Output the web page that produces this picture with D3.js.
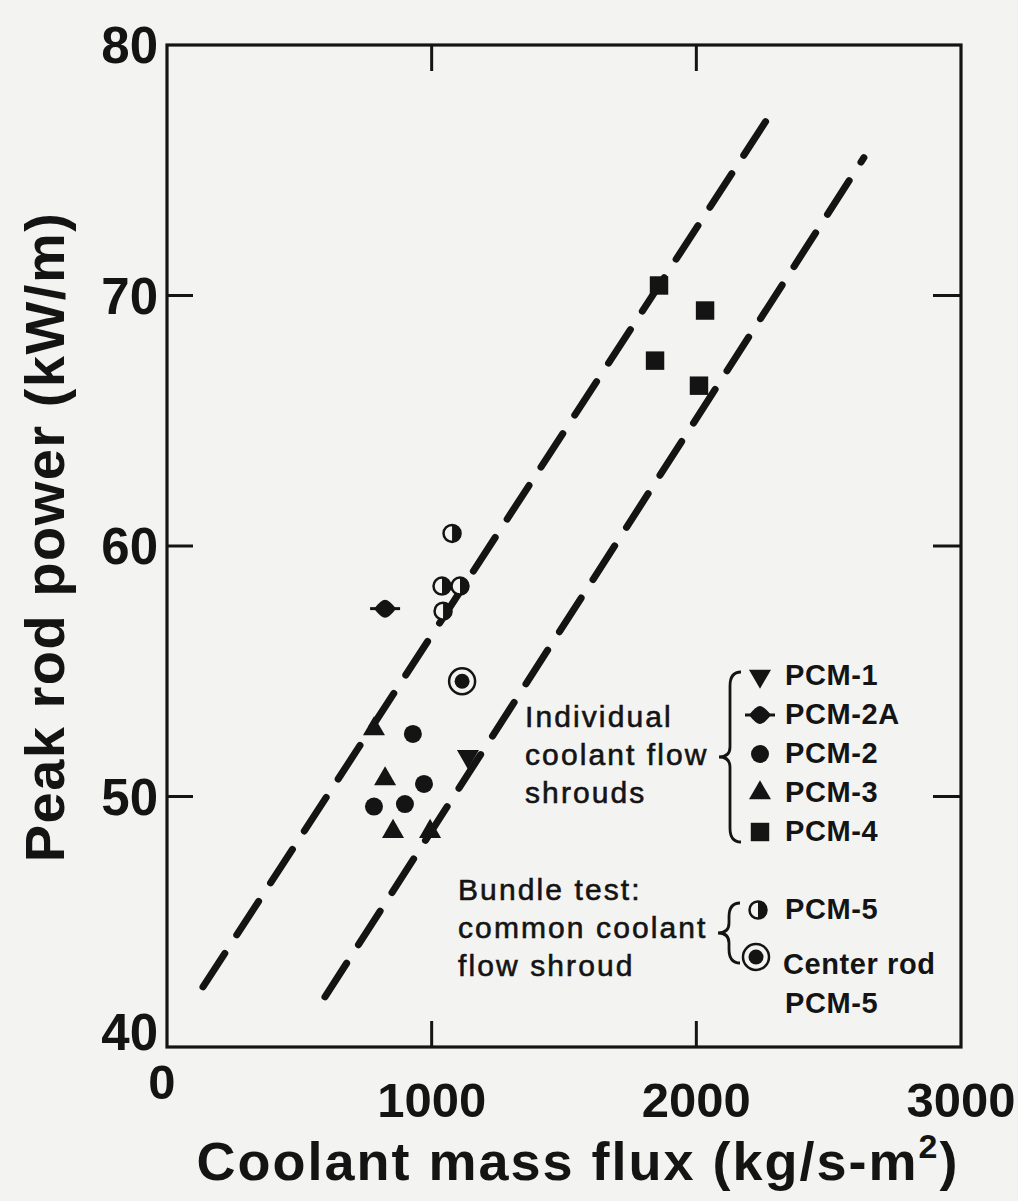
<!DOCTYPE html>
<html>
<head>
<meta charset="utf-8">
<script src="https://cdn.jsdelivr.net/npm/d3@7"></script>
<style>
  html, body { margin: 0; padding: 0; background: #f3f3f1; }
  text { font-family: "Liberation Sans", Arial, sans-serif; fill: #141414; }
</style>
</head>
<body>
<svg id="chart" width="1018" height="1201"></svg>
<script>
// values: [mass flux kg/s-m2, peak power kW/m]
var pcm1  = [[1137, 51.6]];
var pcm2a = [[824, 57.5]];
var pcm2  = [[929, 52.5], [971, 50.5], [782, 49.6], [899, 49.7]];
var pcm3  = [[782, 52.7], [824, 50.7], [854, 48.6], [994, 48.6]];
var pcm4  = [[1859, 70.4], [2033, 69.4], [1844, 67.4], [2010, 66.4]];
var pcm5  = [[1077, 60.5], [1039, 58.4], [1107, 58.4], [1043, 57.4]];
var centerRod = [[1115, 54.6]];

// dashed envelope lines
var upperBound = [[136, 42.4], [2290, 77.4]];
var lowerBound = [[597, 42.0], [2633, 75.5]];

var xTicks = [0, 1000, 2000, 3000];
var yTicks = [40, 50, 60, 70, 80];

var ink = '#141414';
var bg = '#f3f3f1';

const svg = d3.select('#chart');

var x = d3.scaleLinear()
    .domain([0, 3000])
    .range([167, 961]);

var y = d3.scaleLinear()
    .domain([40, 80])
    .range([1047, 45]);

// frame
svg.append('rect')
    .attr('x', x(0))
    .attr('y', y(80))
    .attr('width', x(3000) - x(0))
    .attr('height', y(40) - y(80))
    .attr('fill', 'none')
    .attr('stroke', ink)
    .attr('stroke-width', 3.2);

// inner ticks, all four sides
var xi = xTicks.filter(d => d > 0 && d < 3000);
var yi = yTicks.filter(d => d > 40 && d < 80);

svg.append('g').selectAll('line').data(xi).enter().append('line')
    .attr('x1', d => x(d)).attr('x2', d => x(d))
    .attr('y1', y(40)).attr('y2', y(40) - 26)
    .attr('stroke', ink).attr('stroke-width', 3);
svg.append('g').selectAll('line').data(xi).enter().append('line')
    .attr('x1', d => x(d)).attr('x2', d => x(d))
    .attr('y1', y(80)).attr('y2', y(80) + 26)
    .attr('stroke', ink).attr('stroke-width', 3);
svg.append('g').selectAll('line').data(yi).enter().append('line')
    .attr('x1', x(0)).attr('x2', x(0) + 26)
    .attr('y1', d => y(d)).attr('y2', d => y(d))
    .attr('stroke', ink).attr('stroke-width', 3);
svg.append('g').selectAll('line').data(yi).enter().append('line')
    .attr('x1', x(3000)).attr('x2', x(3000) - 28)
    .attr('y1', d => y(d)).attr('y2', d => y(d))
    .attr('stroke', ink).attr('stroke-width', 3);

// tick labels
svg.append('g').selectAll('text').data(yTicks).enter().append('text')
    .attr('x', x(0) - 9)
    .attr('y', d => d === 40 ? y(d) + 3 : y(d) + 18)
    .attr('text-anchor', 'end')
    .attr('font-size', 51)
    .attr('font-weight', 'bold')
    .text(d => d);

svg.append('g').selectAll('text').data(xTicks).enter().append('text')
    .attr('x', d => d === 0 ? x(d) - 5 : x(d))
    .attr('y', d => d === 0 ? y(40) + 52 : y(40) + 70)
    .attr('text-anchor', 'middle')
    .attr('font-size', 49)
    .attr('font-weight', 'bold')
    .text(d => d);

// axis titles
var xt = svg.append('text')
    .attr('x', 578)
    .attr('y', 1180)
    .attr('text-anchor', 'middle')
    .attr('font-size', 54)
    .attr('letter-spacing', 2)
    .attr('font-weight', 'bold');
xt.append('tspan').text('Coolant mass flux (kg/s-m');
xt.append('tspan').attr('font-size', 34).attr('dy', -22).text('2');
xt.append('tspan').attr('dy', 22).text(')');

svg.append('text')
    .attr('transform', 'translate(64,537) rotate(-90)')
    .attr('text-anchor', 'middle')
    .attr('font-size', 56)
    .attr('letter-spacing', 1.5)
    .attr('font-weight', 'bold')
    .text('Peak rod power (kW/m)');

// dashed lines
var line = d3.line().x(d => x(d[0])).y(d => y(d[1]));

[upperBound, lowerBound].forEach(function(b) {
    svg.append('path')
        .datum(b)
        .attr('d', line)
        .attr('fill', 'none')
        .attr('stroke', ink)
        .attr('stroke-width', 7)
        .attr('stroke-linecap', 'round')
        .attr('stroke-dasharray', '40 22');
});

// markers
var tri = d3.symbol().type(d3.symbolTriangle).size(210);
var sq = d3.symbol().type(d3.symbolSquare).size(340);
var halfArc = d3.arc().innerRadius(0).outerRadius(9).startAngle(0).endAngle(Math.PI);

function drawTriUp(g) {
    g.append('path').attr('d', tri).attr('fill', ink);
}
function drawTriDown(g) {
    g.append('path').attr('d', tri).attr('transform', 'rotate(180)').attr('fill', ink);
}
function drawDot(g) {
    g.append('circle').attr('r', 9).attr('fill', ink);
}
function drawSquare(g) {
    g.append('path').attr('d', sq).attr('fill', ink);
}
function drawDot2A(g) {
    g.append('line').attr('x1', -15).attr('x2', 15).attr('stroke', ink).attr('stroke-width', 3);
    g.append('path').attr('d', 'M-11,0 Q-4,-9 0,-9 Q4,-9 11,0 Q4,9 0,9 Q-4,9 -11,0Z').attr('fill', ink);
}
function drawHalf(g) {
    g.append('circle').attr('r', 8.5).attr('fill', bg).attr('stroke', ink).attr('stroke-width', 2.5);
    g.append('path').attr('d', halfArc).attr('fill', ink);
}
function drawRing(g) {
    g.append('circle').attr('r', 13).attr('fill', bg).attr('stroke', ink).attr('stroke-width', 2.5);
    g.append('circle').attr('r', 7.5).attr('fill', ink);
}

function plot(data, fn) {
    svg.append('g').selectAll('g')
        .data(data)
        .enter()
        .append('g')
        .attr('transform', d => 'translate(' + x(d[0]) + ',' + y(d[1]) + ')')
        .each(function() { fn(d3.select(this)); });
}

plot(pcm1, drawTriDown);
plot(pcm2a, drawDot2A);
plot(pcm2, drawDot);
plot(pcm3, drawTriUp);
plot(pcm4, drawSquare);
plot(pcm5, drawHalf);
plot(centerRod, drawRing);

// legend
var leg = svg.append('g').attr('font-size', 29).attr('font-weight', 'bold').attr('letter-spacing', 0.6);

var legRows = [
    ['PCM-1', drawTriDown, 685],
    ['PCM-2A', drawDot2A, 724],
    ['PCM-2', drawDot, 763],
    ['PCM-3', drawTriUp, 802],
    ['PCM-4', drawSquare, 841]
];
legRows.forEach(function(r) {
    var g = leg.append('g').attr('transform', 'translate(760,' + (r[2] - 9) + ')');
    r[1](g);
    leg.append('text').attr('x', 785).attr('y', r[2]).text(r[0]);
});

var g5 = leg.append('g').attr('transform', 'translate(758,910)');
drawHalf(g5);
leg.append('text').attr('x', 785).attr('y', 919).text('PCM-5');
var gc = leg.append('g').attr('transform', 'translate(756,957)');
drawRing(gc);
leg.append('text').attr('x', 783).attr('y', 974).text('Center rod');
leg.append('text').attr('x', 785).attr('y', 1013).text('PCM-5');

var note = svg.append('g')
    .attr('font-size', 30)
    .attr('letter-spacing', 2.1)
    .style('stroke', ink)
    .style('stroke-width', 0.6);
['Individual', 'coolant flow', 'shrouds'].forEach(function(t, i) {
    note.append('text').attr('x', 525).attr('y', 727 + i * 38).text(t);
});
['Bundle test:', 'common coolant', 'flow shroud'].forEach(function(t, i) {
    note.append('text').attr('x', 458).attr('y', 900 + i * 38).text(t);
});

// braces
function brace(xr, y0, y1) {
    var ym = (y0 + y1) / 2, xl = xr - 22, xm = xr - 11;
    return 'M' + xr + ',' + y0 +
        ' Q' + xm + ',' + y0 + ' ' + xm + ',' + (y0 + 14) +
        ' L' + xm + ',' + (ym - 10) +
        ' Q' + xm + ',' + ym + ' ' + xl + ',' + ym +
        ' Q' + xm + ',' + ym + ' ' + xm + ',' + (ym + 10) +
        ' L' + xm + ',' + (y1 - 14) +
        ' Q' + xm + ',' + y1 + ' ' + xr + ',' + y1;
}
svg.append('path').attr('d', brace(741, 672, 842))
    .attr('fill', 'none').attr('stroke', ink).attr('stroke-width', 2.8);
svg.append('path').attr('d', brace(740, 903, 963))
    .attr('fill', 'none').attr('stroke', ink).attr('stroke-width', 2.8);
</script>
</body>
</html>
